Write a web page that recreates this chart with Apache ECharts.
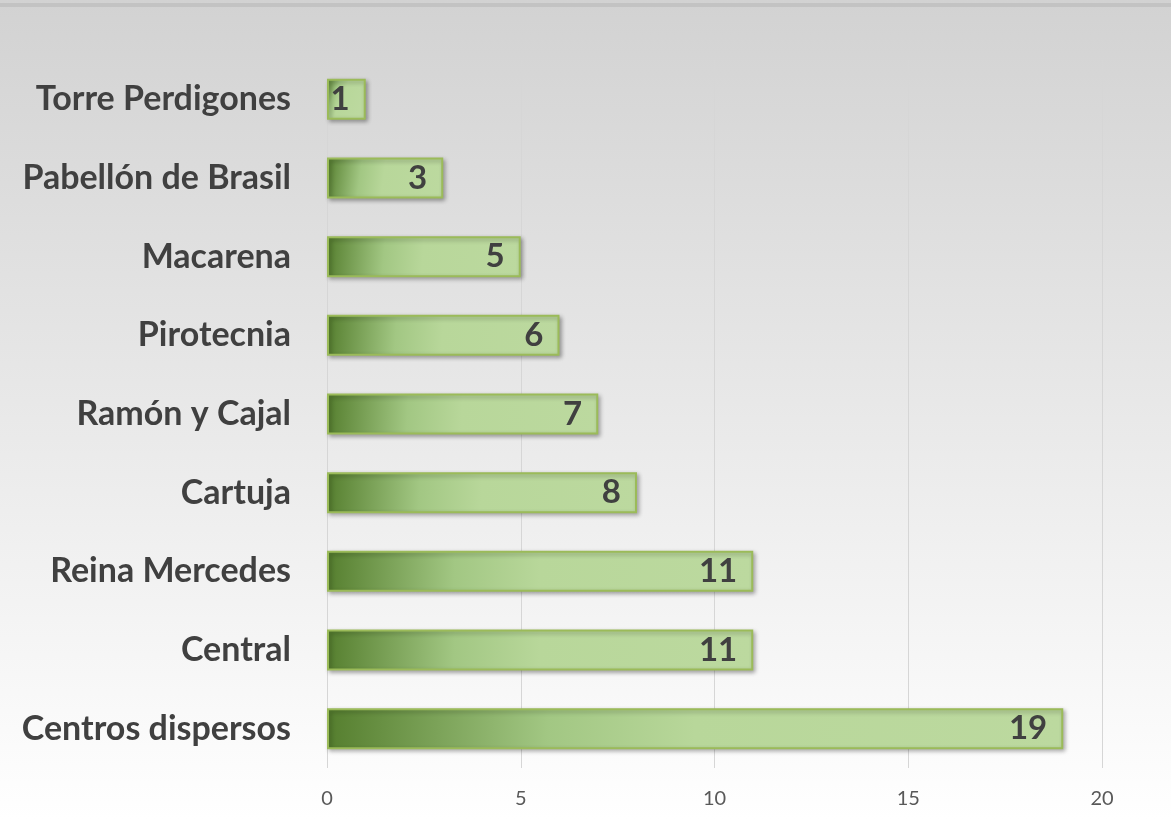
<!DOCTYPE html>
<html>
<head>
<meta charset="utf-8">
<script src="https://cdn.jsdelivr.net/npm/echarts@6/dist/echarts.min.js"></script>
<style>
  html, body { margin: 0; padding: 0; }
  #main { width: 1171px; height: 820px; }
</style>
</head>
<body>
<div id="main"></div>
<script type="text/javascript">
	// categorías de arriba a abajo
	var centros = ['Torre Perdigones', 'Pabellón de Brasil', 'Macarena', 'Pirotecnia',
		'Ramón y Cajal', 'Cartuja', 'Reina Mercedes', 'Central', 'Centros dispersos'];
	var valores = [1, 3, 5, 6, 7, 8, 11, 11, 19];
	var ticksX = [0, 5, 10, 15, 20];

	var myChart = echarts.init(document.getElementById('main'));

	myChart.setOption({
		backgroundColor: new echarts.graphic.LinearGradient(0, 0, 0, 1, [
			{ offset: 0, color: '#d2d2d2' },
			{ offset: 1, color: '#ffffff' }
		]),
		graphic: [{
			type: 'rect',
			shape: { x: 0, y: 3, width: 1171, height: 4 },
			style: { fill: '#c3c3c3' },
			silent: true
		}],
		grid: { left: 327, right: 69, top: 60, bottom: 52 },
		xAxis: {
			type: 'value',
			min: ticksX[0],
			max: ticksX[ticksX.length - 1],
			interval: 5,
			axisLine: { show: false },
			axisTick: { show: false },
			splitLine: { lineStyle: { color: '#d6d6d6', width: 1 } },
			axisLabel: { color: '#595959', fontSize: 20, fontFamily: 'Lato', margin: 21 }
		},
		yAxis: {
			type: 'category',
			inverse: true,
			data: centros,
			axisLine: { show: false },
			axisTick: { show: false },
			axisLabel: {
				color: '#404040', fontSize: 34, fontWeight: 'bold',
				fontFamily: 'Lato', margin: 36
			}
		},
		series: [{
			type: 'bar',
			data: valores,
			barWidth: 41,
			itemStyle: {
				color: new echarts.graphic.LinearGradient(0, 0, 1, 0.4, [
					{ offset: 0, color: '#557e2e' },
					{ offset: 0.3, color: '#a2c783' },
					{ offset: 0.5, color: '#b8d79a' },
					{ offset: 1, color: '#bcd99f' }
				]),
				borderColor: '#9bbb59',
				borderWidth: 2,
				shadowColor: 'rgba(0,0,0,0.3)',
				shadowBlur: 4,
				shadowOffsetX: 2,
				shadowOffsetY: 2
			},
			label: {
				show: true,
				position: 'insideRight',
				distance: 16,
				color: '#404040',
				fontSize: 33,
				fontWeight: 'bold',
				fontFamily: 'Lato'
			}
		}]
	});
</script>
</body>
</html>
